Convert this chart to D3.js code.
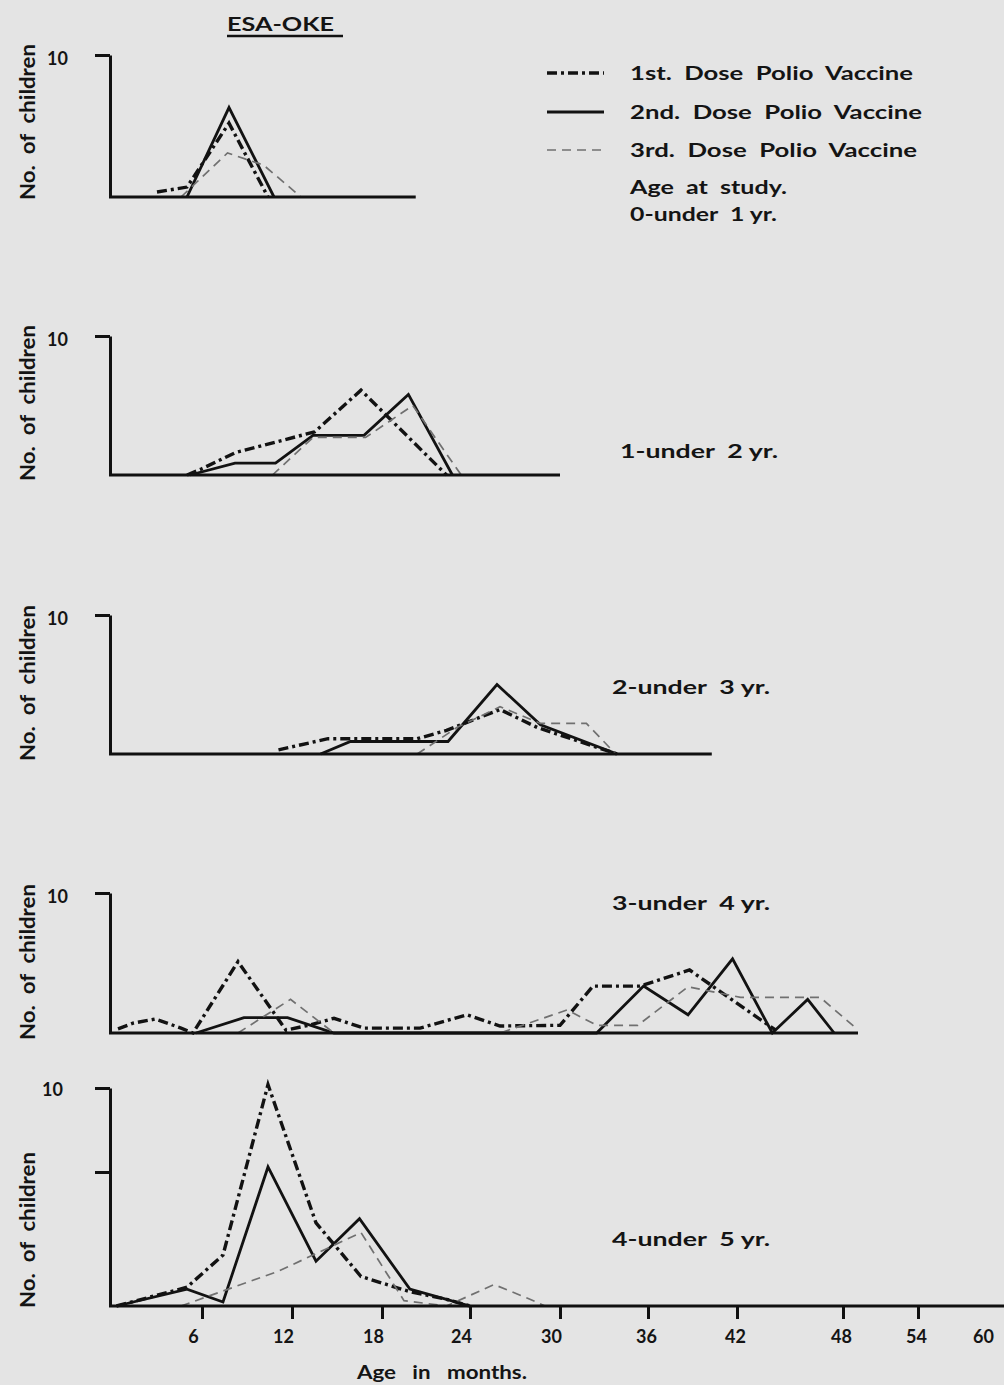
<!DOCTYPE html>
<html>
<head>
<meta charset="utf-8">
<script src="https://cdn.jsdelivr.net/npm/d3@7"></script>
<style>
  html, body { margin: 0; padding: 0; background: #e4e4e4; }
  svg { display: block; }
  text { font-family: Lato, "DejaVu Sans", sans-serif; font-weight: 700; fill: #141414; }
</style>
</head>
<body>
<svg id="chart" width="1004" height="1385"></svg>
<script>
// ---------------- DATA ----------------
const chartTitle = "ESA-OKE";
const seriesNames = ["1st.  Dose  Polio  Vaccine", "2nd.  Dose  Polio  Vaccine", "3rd.  Dose  Polio  Vaccine"];
const ageGroups = ["0-under  1 yr.", "1-under  2 yr.", "2-under  3 yr.", "3-under  4 yr.", "4-under  5 yr."];
const xTickValues = [6, 12, 18, 24, 30, 36, 42, 48, 54, 60];
const xTitle = "Age   in   months.";
const yTitle = "No.  of  children";

// [age in months, number of children]
const age0Dose1 = [[3, 0.35], [5, 0.7], [7.8, 5.2], [10.4, 0]];
const age0Dose2 = [[5, 0], [7.8, 6.3], [10.8, 0]];
const age0Dose3 = [[4.6, 0], [7.7, 3.1], [10.1, 2.25], [12.6, 0]];

const age1Dose1 = [[5, 0], [5.9, 0.4], [8.2, 1.6], [13.5, 3.1], [16.6, 6.1], [22.4, 0]];
const age1Dose2 = [[5.2, 0], [8.2, 0.85], [10.9, 0.85], [13.4, 2.85], [16.8, 2.85], [19.8, 5.8], [22.8, 0]];
const age1Dose3 = [[10.7, 0], [13.4, 2.7], [16.9, 2.7], [20.1, 5.0], [23.4, 0]];

const age2Dose1 = [[11.1, 0.3], [14.4, 1.1], [20.4, 1.1], [22.4, 1.7], [26, 3.2], [28.5, 1.9], [33.9, 0]];
const age2Dose2 = [[13.9, 0], [15.9, 0.9], [22.5, 0.9], [25.8, 5.0], [28.7, 2.1], [33.9, 0]];
const age2Dose3 = [[20.4, 0], [23.1, 1.9], [26, 3.4], [28.7, 2.2], [31.8, 2.2], [33.8, 0]];

const age3Dose1 = [[0.4, 0.3], [1.4, 0.7], [2.9, 1.0], [4.6, 0.35], [5.4, 0], [8.4, 5.1], [11.6, 0.2], [13.1, 0.55],
                   [14.8, 1.05], [16.8, 0.35], [20.6, 0.35], [23.8, 1.3], [26, 0.5], [30, 0.55], [32.25, 3.35],
                   [35.45, 3.35], [38.8, 4.5], [41.7, 2.35], [43.5, 0.8], [44.2, 0.2]];
const age3Dose2 = [[5.6, 0], [8.8, 1.1], [11.7, 1.1], [14.8, 0], [32.5, 0], [35.7, 3.35], [38.7, 1.3], [41.7, 5.3],
                   [44, 0], [46, 2.4], [47.5, 0]];
const age3Dose3 = [[8.4, 0], [11.9, 2.4], [14.8, 0], [26, 0], [30.5, 1.65], [32.5, 0.55], [35.3, 0.55], [38.7, 3.3],
                   [42.2, 2.55], [46.7, 2.55], [49.1, 0.3]];

const age4Dose1 = [[0.3, 0], [5, 0.7], [7.4, 1.9], [10.4, 10.2], [13.6, 3.1], [16.6, 1.1], [19.8, 0.55], [22.4, 0.25], [24, 0]];
const age4Dose2 = [[0.3, 0], [5, 0.63], [7.4, 0.15], [10.4, 5.3], [13.6, 1.67], [16.5, 3.26], [19.9, 0.63], [22.4, 0.25], [24, 0]];
const age4Dose3 = [[4.6, 0], [11.1, 1.3], [16.6, 2.74], [19.5, 0.2], [22.4, 0], [25.6, 0.8], [27.8, 0.3], [29, 0]];

const axisEndMonths = [20.3, 30, 40.3, 49.2, 62];
const yTickValuesSmall = [10];
const yTickValuesLast = [5, 10];

// ---------------- DRAWING ----------------
const svg = d3.select("#chart");
svg.append("rect").attr("width", 1004).attr("height", 1385).attr("fill", "#e4e4e4");

// hand-drawn month axis (uneven in the original)
const x = d3.scaleLinear()
  .domain([0, 6, 12, 18, 24, 30, 36, 42, 48, 54, 60])
  .range([112, 202, 292, 382, 470, 560, 648, 737, 843, 918, 985]);

const panels = [
  { series: [age0Dose1, age0Dose2, age0Dose3], y: d3.scaleLinear().domain([0, 10]).range([197, 55]), ticks: yTickValuesSmall, label: null, labelPos: null, yTitleC: 122 },
  { series: [age1Dose1, age1Dose2, age1Dose3], y: d3.scaleLinear().domain([0, 10]).range([475, 336]), ticks: yTickValuesSmall, label: ageGroups[1], labelPos: [620, 458], yTitleC: 403 },
  { series: [age2Dose1, age2Dose2, age2Dose3], y: d3.scaleLinear().domain([0, 10]).range([754, 615]), ticks: yTickValuesSmall, label: ageGroups[2], labelPos: [612, 694], yTitleC: 683 },
  { series: [age3Dose1, age3Dose2, age3Dose3], y: d3.scaleLinear().domain([0, 10]).range([1033, 893]), ticks: yTickValuesSmall, label: ageGroups[3], labelPos: [612, 910], yTitleC: 962 },
  { series: [age4Dose1, age4Dose2, age4Dose3], y: d3.scaleLinear().domain([0, 5, 10]).range([1306, 1172, 1088]), ticks: yTickValuesLast, label: ageGroups[4], labelPos: [612, 1246], yTitleC: 1230 }
];

const styles = [
  { stroke: "#121212", width: 3.4, dash: "10,4,3,4" },
  { stroke: "#121212", width: 2.8, dash: null },
  { stroke: "#707070", width: 1.7, dash: "9,6" }
];

panels.forEach((p, i) => {
  const g = svg.append("g");
  const y = p.y;
  const base = y(0);

  // series lines
  p.series.forEach((s, k) => {
    const line = d3.line().x(d => x(d[0])).y(d => y(d[1]));
    g.append("path").datum(s)
      .attr("d", line)
      .attr("fill", "none")
      .attr("stroke", styles[k].stroke)
      .attr("stroke-width", styles[k].width)
      .attr("stroke-linejoin", "miter")
      .attr("stroke-dasharray", styles[k].dash);
  });

  // horizontal base line
  const xEnd = i === 4 ? 1004 : x(axisEndMonths[i]);
  g.append("line")
    .attr("x1", 109).attr("x2", xEnd)
    .attr("y1", base).attr("y2", base)
    .attr("stroke", "#111").attr("stroke-width", 3);

  // vertical axis
  const ya = g.append("g").attr("transform", "translate(110,0)")
    .call(d3.axisLeft(y).tickValues(p.ticks).tickSize(15).tickSizeOuter(0).tickPadding(i === 4 ? 32 : 27)
      .tickFormat(d => d === 10 ? "10" : ""));
  ya.select(".domain").attr("stroke", "#111").attr("stroke-width", 3);
  ya.selectAll(".tick line").attr("stroke", "#111").attr("stroke-width", 3);
  ya.selectAll(".tick text").attr("font-size", 18).attr("font-family", "Lato, sans-serif")
    .attr("font-weight", 700).attr("fill", "#141414").attr("dy", i === 4 ? "0.4em" : "0.55em");

  // y title
  svg.append("text")
    .attr("transform", `translate(35,${p.yTitleC}) rotate(-90)`)
    .attr("text-anchor", "middle")
    .attr("font-size", 21)
    .attr("textLength", 156).attr("lengthAdjust", "spacingAndGlyphs")
    .attr("xml:space", "preserve")
    .text(yTitle);

  if (p.label) {
    svg.append("text").attr("x", p.labelPos[0]).attr("y", p.labelPos[1])
      .attr("font-size", 18)
      .attr("textLength", 158).attr("lengthAdjust", "spacingAndGlyphs")
      .attr("xml:space", "preserve")
      .text(p.label);
  }

  // bottom axis with month ticks on last panel
  if (i === 4) {
    const xa = svg.append("g").attr("transform", `translate(0,${base})`)
      .call(d3.axisBottom(x).tickValues(xTickValues).tickSize(13).tickSizeOuter(0).tickPadding(11));
    xa.select(".domain").remove();
    xa.selectAll(".tick line").attr("stroke", "#111").attr("stroke-width", 3)
      .filter(d => d === 60).remove();
    xa.selectAll(".tick text").attr("font-size", 18).attr("font-family", "Lato, sans-serif")
      .attr("font-weight", 700).attr("fill", "#141414")
      .attr("dx", d => d <= 30 ? -9 : -2);
  }
});

// title
svg.append("text").attr("x", 227).attr("y", 31).attr("font-size", 18)
  .attr("textLength", 107).attr("lengthAdjust", "spacingAndGlyphs").text(chartTitle);
svg.append("line").attr("x1", 227).attr("x2", 343).attr("y1", 36).attr("y2", 36)
  .attr("stroke", "#111").attr("stroke-width", 2.5);

// legend
const legendRows = [73, 112, 150];
const legendWidths = [283, 292, 287];
legendRows.forEach((ly, k) => {
  svg.append("line").attr("x1", 547).attr("x2", 604).attr("y1", ly).attr("y2", ly)
    .attr("stroke", styles[k].stroke).attr("stroke-width", styles[k].width)
    .attr("stroke-dasharray", styles[k].dash);
  svg.append("text").attr("x", 630).attr("y", ly + 7).attr("font-size", 19)
    .attr("textLength", legendWidths[k]).attr("lengthAdjust", "spacingAndGlyphs")
    .attr("xml:space", "preserve").text(seriesNames[k]);
});
svg.append("text").attr("x", 630).attr("y", 194).attr("font-size", 18)
  .attr("textLength", 157).attr("lengthAdjust", "spacingAndGlyphs")
  .attr("xml:space", "preserve").text("Age  at  study.");
svg.append("text").attr("x", 630).attr("y", 221).attr("font-size", 18)
  .attr("textLength", 147).attr("lengthAdjust", "spacingAndGlyphs")
  .attr("xml:space", "preserve").text(ageGroups[0]);

// x title
svg.append("text").attr("x", 357).attr("y", 1379).attr("font-size", 18)
  .attr("textLength", 170).attr("lengthAdjust", "spacingAndGlyphs")
  .attr("xml:space", "preserve").text(xTitle);
</script>
</body>
</html>
